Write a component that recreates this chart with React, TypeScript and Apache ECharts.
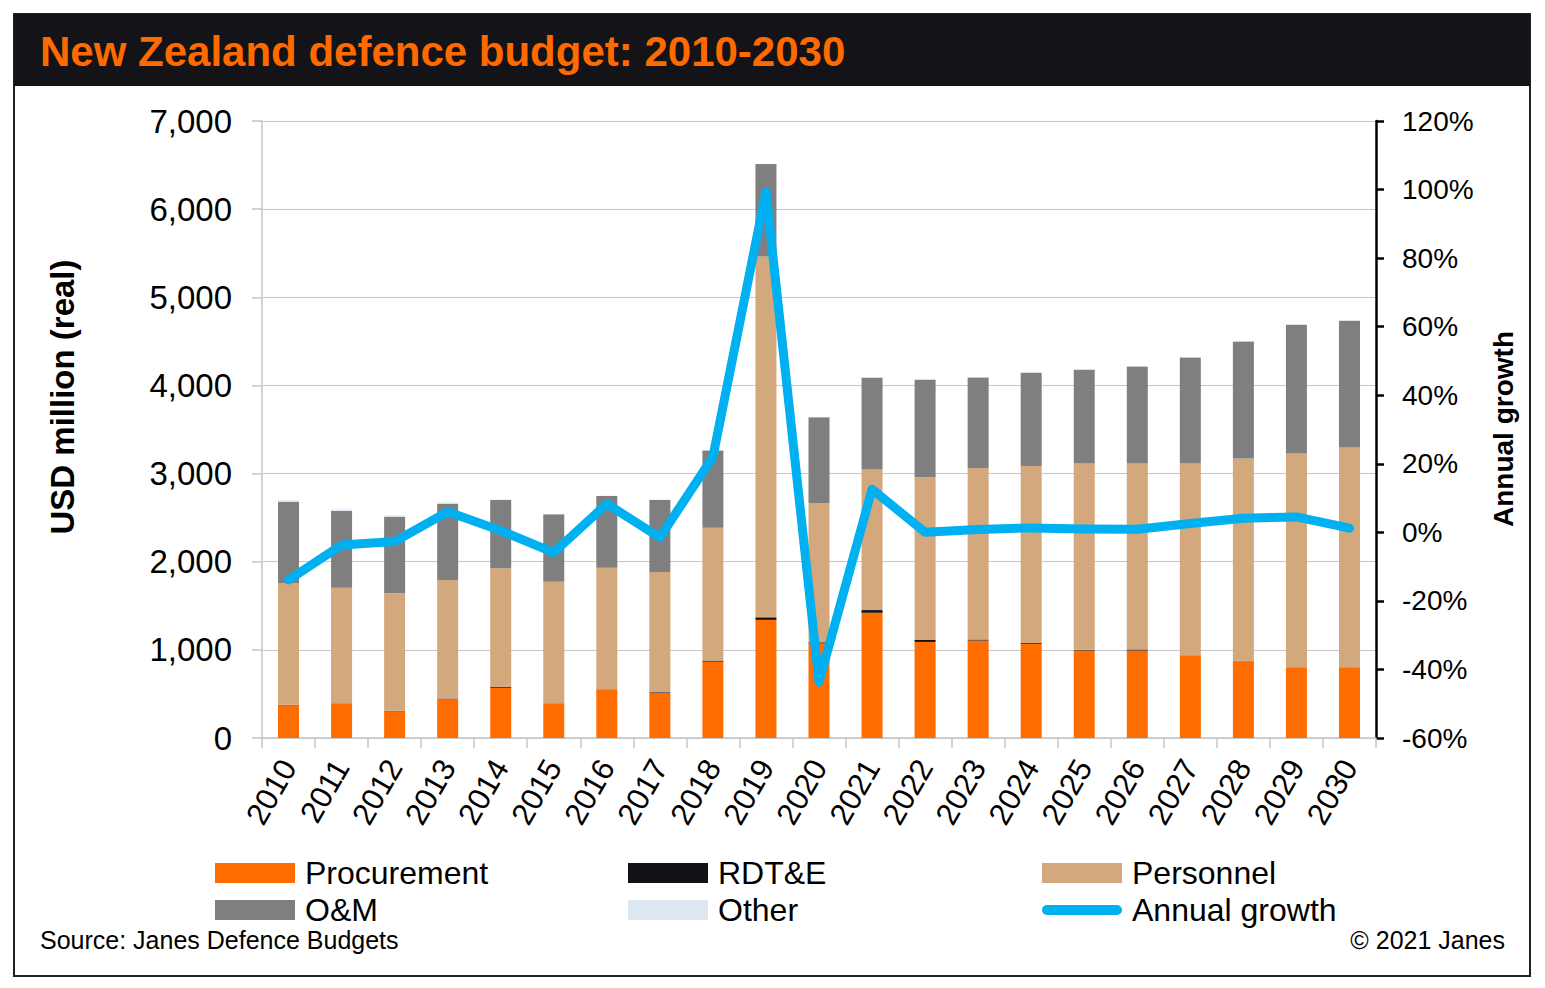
import React, { useEffect, useRef } from "react";
import * as echarts from "echarts";

const years = ["2010","2011","2012","2013","2014","2015","2016","2017","2018","2019","2020","2021","2022","2023","2024","2025","2026","2027","2028","2029","2030"];
const procurement = [371, 386, 303, 442, 570, 386, 545, 511, 866, 1340, 1073, 1421, 1090, 1106, 1068, 993, 993, 932, 872, 796, 796];
const rdte = [5, 5, 5, 5, 12, 5, 5, 8, 12, 29, 12, 30, 22, 11, 11, 7, 11, 4, 4, 4, 4];
const personnel = [1383, 1314, 1333, 1346, 1343, 1383, 1382, 1364, 1508, 4095, 1580, 1596, 1845, 1947, 2008, 2114, 2110, 2178, 2294, 2427, 2495];
const om = [922, 870, 870, 865, 775, 764, 814, 817, 876, 1047, 974, 1039, 1107, 1027, 1057, 1064, 1102, 1203, 1329, 1460, 1438];
const other = [18, 16, 14, 14, 5, 4, 4, 4, 4, 4, 4, 4, 4, 4, 4, 4, 4, 4, 4, 4, 4];
const growth = [-13.9, -3.7, -2.7, 6.0, 0.5, -5.9, 8.3, -1.5, 22, 99.4, -43.7, 12.6, 0, 0.8, 1.3, 1.0, 0.9, 2.6, 4.1, 4.5, 1.2];
const leftTicks = { min: 0, max: 7000, interval: 1000 };
const rightTicks = { min: -60, max: 120, interval: 20 };

const FONT = "'Liberation Sans', Arial, sans-serif";

export default function App() {
  const ref = useRef<HTMLDivElement>(null);
  useEffect(() => {
    if (!ref.current) return;
    const chart = echarts.init(ref.current, null, { renderer: "svg" });
    const barBase = { type: "bar" as const, stack: "total", barWidth: 21 };
    const legendCommon = {
      orient: "vertical" as const,
      top: 857,
      padding: 0,
      itemWidth: 80,
      itemHeight: 20,
      itemGap: 5,
      icon: "rect",
      textStyle: { fontSize: 32, fontFamily: FONT, color: "#000", lineHeight: 32, padding: [0, 0, 0, 5] },
    };
    chart.setOption({
      animation: false,
      backgroundColor: "#fff",
      textStyle: { fontFamily: FONT },
      grid: { left: 262, right: 169, top: 121, bottom: 250 },
      xAxis: {
        type: "category",
        data: years,
        axisLine: { lineStyle: { color: "#c6c6c6", width: 1.5 } },
        axisTick: { show: true, length: 10, lineStyle: { color: "#c6c6c6", width: 1.5 } },
        axisLabel: { rotate: 60, fontSize: 31, color: "#000", margin: 24, interval: 0, fontFamily: FONT },
      },
      yAxis: [
        {
          type: "value",
          ...leftTicks,
          position: "left",
          axisLine: { show: true, lineStyle: { color: "#c6c6c6", width: 1.5 } },
          axisTick: { show: true, length: 10, lineStyle: { color: "#c6c6c6", width: 1.5 } },
          splitLine: { show: true, lineStyle: { color: "#c6c6c6", width: 1.2 } },
          axisLabel: {
            fontSize: 33,
            color: "#000",
            margin: 30,
            fontFamily: FONT,
            formatter: (v: number) => v.toLocaleString("en-US"),
          },
        },
        {
          type: "value",
          ...rightTicks,
          position: "right",
          axisLine: { show: true, lineStyle: { color: "#000", width: 2.5 } },
          axisTick: { show: true, length: 8, lineStyle: { color: "#000", width: 2.5 } },
          splitLine: { show: false },
          axisLabel: { fontSize: 28, color: "#000", margin: 26, fontFamily: FONT, formatter: "{value}%" },
        },
      ],
      legend: [
        { ...legendCommon, left: 215, data: ["Procurement", "O&M"] },
        { ...legendCommon, left: 628, data: ["RDT&E", "Other"] },
        {
          ...legendCommon,
          left: 1042,
          data: [
            "Personnel",
            { name: "Annual growth", icon: "path://M5 0 H75 A5 5 0 0 1 75 10 H5 A5 5 0 0 1 5 0 Z" },
          ],
        },
      ],
      series: [
        { ...barBase, name: "Procurement", data: procurement, itemStyle: { color: "#ff6d00" } },
        { ...barBase, name: "RDT&E", data: rdte, itemStyle: { color: "#121116" } },
        { ...barBase, name: "Personnel", data: personnel, itemStyle: { color: "#d3a87c" } },
        { ...barBase, name: "O&M", data: om, itemStyle: { color: "#7f7f7f" } },
        { ...barBase, name: "Other", data: other, itemStyle: { color: "#dce7f1" } },
        {
          type: "line",
          name: "Annual growth",
          yAxisIndex: 1,
          data: growth,
          symbol: "none",
          z: 5,
          itemStyle: { color: "#00b0f0" },
          lineStyle: { color: "#00b0f0", width: 9, cap: "round", join: "round" },
        },
      ],
      graphic: [
        { type: "rect", shape: { x: 14, y: 14, width: 1516, height: 962 }, style: { fill: "none", stroke: "#222", lineWidth: 2 }, z: 10 },
        { type: "rect", shape: { x: 14, y: 14, width: 1516, height: 72 }, style: { fill: "#141318" }, z: 10 },
        {
          type: "text",
          x: 40,
          y: 51,
          z: 11,
          style: { text: "New Zealand defence budget: 2010-2030", fill: "#ff6a00", font: `bold 42px ${FONT}`, textVerticalAlign: "middle" },
        },
        {
          type: "text",
          x: 62,
          y: 397,
          rotation: Math.PI / 2,
          z: 11,
          style: { text: "USD million (real)", fill: "#000", font: `bold 33px ${FONT}`, textAlign: "center", textVerticalAlign: "middle" },
        },
        {
          type: "text",
          x: 1503,
          y: 429,
          rotation: Math.PI / 2,
          z: 11,
          style: { text: "Annual growth", fill: "#000", font: `bold 28px ${FONT}`, textAlign: "center", textVerticalAlign: "middle" },
        },
        {
          type: "text",
          x: 40,
          y: 940,
          z: 11,
          style: { text: "Source: Janes Defence Budgets", fill: "#000", font: `25px ${FONT}`, textVerticalAlign: "middle" },
        },
        {
          type: "text",
          x: 1505,
          y: 940,
          z: 11,
          style: { text: "© 2021 Janes", fill: "#000", font: `25px ${FONT}`, textAlign: "right", textVerticalAlign: "middle" },
        },
      ],
    });
    return () => chart.dispose();
  }, []);
  return <div ref={ref} style={{ position: "absolute", left: 0, top: 0, width: 1545, height: 988 }} />;
}
